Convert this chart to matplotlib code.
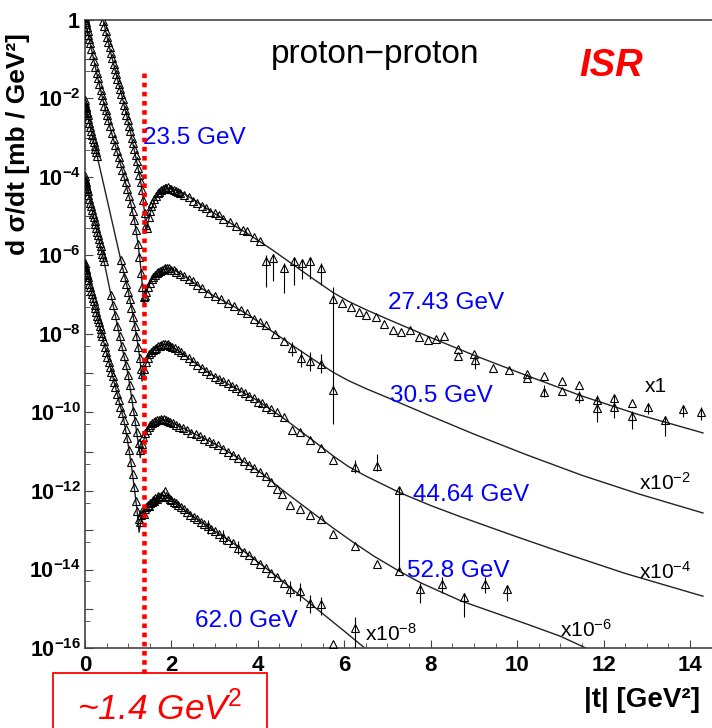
import numpy as np
import matplotlib
matplotlib.use('Agg')
import matplotlib.pyplot as plt
from matplotlib.ticker import FixedLocator, FuncFormatter, NullFormatter
from matplotlib.patches import Rectangle

plt.rcParams['font.family'] = 'Liberation Sans'
plt.rcParams['mathtext.fontset'] = 'custom'
plt.rcParams['mathtext.rm'] = 'Liberation Sans'
plt.rcParams['mathtext.it'] = 'Liberation Sans:italic'
plt.rcParams['mathtext.bf'] = 'Liberation Sans:bold'
plt.rcParams['mathtext.default'] = 'regular'

# values are (|t| in GeV^2, log10 of the plotted dsigma/dt incl. scale factor)

# 23.5 GeV, x1
pts_235 = [(0.42, -0.02), (0.45, -0.16), (0.48, -0.29), (0.51, -0.43), (0.54, -0.57), (0.57, -0.70),
           (0.60, -0.85), (0.63, -0.97), (0.66, -1.11), (0.69, -1.24), (0.72, -1.37), (0.75, -1.50),
           (0.78, -1.62), (0.81, -1.76), (0.84, -1.88), (0.87, -2.01), (0.90, -2.16), (0.93, -2.29),
           (0.96, -2.41), (0.99, -2.56), (1.02, -2.70), (1.05, -2.84), (1.08, -3.00), (1.11, -3.14),
           (1.14, -3.29), (1.17, -3.44), (1.20, -3.60), (1.23, -3.77), (1.26, -3.94), (1.29, -4.12),
           (1.32, -4.33), (1.35, -4.58), (1.38, -4.92), (1.41, -5.22),
           (1.44, -5.30), (1.47, -5.02), (1.50, -4.86), (1.53, -4.74), (1.56, -4.66), (1.60, -4.55),
           (1.64, -4.49), (1.68, -4.42), (1.72, -4.37), (1.76, -4.33), (1.80, -4.30), (1.84, -4.27),
           (1.88, -4.28), (1.92, -4.26), (1.96, -4.31), (2.00, -4.30), (2.05, -4.34), (2.10, -4.35),
           (2.15, -4.39), (2.20, -4.41), (2.30, -4.47), (2.40, -4.52), (2.50, -4.60), (2.60, -4.66),
           (2.70, -4.74), (2.80, -4.79), (2.90, -4.88), (3.00, -4.92), (3.10, -4.98), (3.20, -5.06),
           (3.35, -5.14), (3.50, -5.24), (3.65, -5.34), (3.76, -5.38), (3.90, -5.52), (4.05, -5.63)]
fit_235 = [(0.33, 0.45), (0.42, 0.0), (0.60, -0.85), (0.75, -1.50), (0.88, -2.05), (1.00, -2.60),
           (1.10, -3.10), (1.20, -3.62), (1.28, -4.05), (1.34, -4.50), (1.38, -4.95), (1.42, -5.40),
           (1.46, -5.15), (1.52, -4.88), (1.62, -4.56), (1.75, -4.38), (1.90, -4.30), (2.05, -4.31),
           (2.25, -4.40), (2.50, -4.57), (2.80, -4.79), (3.10, -5.00), (3.43, -5.22), (3.80, -5.47),
           (4.30, -5.83), (4.80, -6.22), (5.30, -6.61), (5.75, -6.95), (6.10, -7.17), (6.50, -7.38),
           (7.00, -7.62), (8.00, -8.09), (9.00, -8.54), (10.20, -9.05), (11.50, -9.58), (12.80, -10.05),
           (14.30, -10.52)]

# 27.43 GeV, x1 (large |t|)
pts_2743 = [(4.20, -6.15), (4.36, -6.07), (4.60, -6.33), (4.83, -6.15), (5.03, -6.20), (5.20, -6.15),
            (5.45, -6.33), (5.75, -7.12), (5.95, -7.20), (6.15, -7.30), (6.35, -7.45), (6.50, -7.51),
            (6.73, -7.56), (6.91, -7.74), (7.12, -7.90), (7.31, -7.95), (7.52, -7.90), (7.73, -8.08),
            (7.93, -8.15), (8.12, -8.12), (8.31, -8.05), (8.63, -8.38), (8.63, -8.56), (9.00, -8.50),
            (9.03, -8.67), (9.44, -8.87), (9.81, -8.92), (10.23, -9.03), (10.23, -9.13), (10.63, -9.06),
            (10.63, -9.47), (11.04, -9.20), (11.04, -9.44), (11.44, -9.31), (11.44, -9.57), (11.86, -9.67),
            (11.86, -9.89), (12.25, -9.62), (12.25, -9.87), (12.65, -9.77), (12.65, -10.08), (13.04, -9.85),
            (13.43, -10.20), (13.85, -9.92), (14.25, -10.00)]
bars_2743 = [(4.20, -6.80, -6.00), (4.36, -6.65, -5.95), (4.60, -6.95, -6.20), (4.83, -6.75, -6.05),
             (5.03, -6.60, -6.10), (5.20, -6.60, -6.05), (5.45, -6.75, -6.20), (5.75, -9.40, -6.80),
             (9.03, -8.90, -8.60), (10.63, -9.60, -9.30), (11.44, -9.75, -9.45), (11.86, -10.25, -9.55),
             (12.25, -10.15, -9.55), (12.65, -10.42, -9.95), (13.04, -10.05, -9.75), (13.43, -10.60, -10.10),
             (13.85, -10.12, -9.80), (14.25, -10.20, -9.85)]

# 30.5 GeV, x1e-2
pts_305 = [(0.003, 0.05), (0.008, 0.0), (0.015, -0.04), (0.025, -0.10), (0.04, -0.18), (0.06, -0.28),
           (0.08, -0.38), (0.10, -0.49), (0.12, -0.59), (0.15, -0.74), (0.18, -0.89), (0.21, -1.04),
           (0.24, -1.19), (0.27, -1.34), (0.30, -1.49), (0.33, -1.63), (0.36, -1.78), (0.39, -1.92),
           (0.42, -2.05), (0.45, -2.18), (0.48, -2.30), (0.51, -2.43), (0.54, -2.56), (0.58, -2.71),
           (0.62, -2.87), (0.66, -3.02), (0.70, -3.18), (0.74, -3.33), (0.78, -3.50), (0.82, -3.65),
           (0.86, -3.82), (0.90, -3.98), (0.94, -4.14), (0.98, -4.31), (1.02, -4.48), (1.06, -4.66),
           (1.10, -4.86), (1.14, -5.10), (1.18, -5.36), (1.22, -5.70), (1.26, -6.05), (1.30, -6.45),
           (1.33, -6.80), (1.36, -7.05),
           (1.39, -7.02), (1.42, -6.92), (1.46, -6.80), (1.50, -6.70), (1.54, -6.61), (1.58, -6.55),
           (1.62, -6.49), (1.66, -6.45), (1.70, -6.41), (1.74, -6.39), (1.78, -6.36), (1.82, -6.35),
           (1.86, -6.32), (1.90, -6.33), (1.95, -6.32), (2.00, -6.36), (2.05, -6.37), (2.10, -6.41),
           (2.20, -6.46), (2.30, -6.53), (2.40, -6.61), (2.50, -6.66), (2.60, -6.76), (2.70, -6.82),
           (2.85, -6.96), (3.00, -7.04), (3.15, -7.12), (3.30, -7.21), (3.45, -7.29), (3.60, -7.40),
           (3.75, -7.46), (3.90, -7.61), (4.05, -7.70), (4.20, -7.78), (4.40, -8.00), (4.60, -8.18),
           (4.80, -8.36), (5.00, -8.62), (5.20, -8.70), (5.45, -8.76), (5.75, -9.42)]
fit_305 = [(0.0, 0.0), (0.10, -0.50), (0.20, -1.00), (0.30, -1.50), (0.42, -2.05), (0.55, -2.62),
           (0.74, -3.35), (0.90, -3.99), (1.04, -4.58), (1.15, -5.15), (1.23, -5.72), (1.29, -6.30),
           (1.33, -6.80), (1.36, -7.30), (1.40, -7.05), (1.46, -6.80), (1.55, -6.60), (1.67, -6.46),
           (1.80, -6.37), (1.92, -6.33), (2.10, -6.38), (2.37, -6.58), (2.70, -6.84), (3.00, -7.04),
           (3.43, -7.29), (3.80, -7.53), (4.22, -7.85), (4.76, -8.26), (5.30, -8.66), (5.75, -8.98),
           (6.10, -9.19), (6.50, -9.39), (7.00, -9.62), (8.00, -10.09), (9.00, -10.55), (10.20, -11.07),
           (11.50, -11.60), (12.80, -12.07), (14.30, -12.56)]
bars_305 = [(4.80, -8.55, -8.20), (5.00, -8.85, -8.40), (5.20, -8.95, -8.45), (5.45, -9.00, -8.50),
            (5.75, -10.30, -9.30)]

# 44.64 GeV, x1e-4
pts_4464 = [(0.003, -2.05), (0.006, -2.12), (0.01, -2.18), (0.015, -2.22), (0.02, -2.25), (0.03, -2.30),
            (0.04, -2.34), (0.05, -2.38), (0.06, -2.42), (0.08, -2.52), (0.10, -2.62), (0.12, -2.72),
            (0.14, -2.82), (0.16, -2.92), (0.18, -3.02), (0.20, -3.11), (0.22, -3.20), (0.24, -3.28),
            (0.26, -3.37), (0.28, -3.46),
            (0.83, -6.12), (0.87, -6.33), (0.91, -6.55), (0.95, -6.72), (0.99, -6.92), (1.03, -7.12),
            (1.07, -7.33), (1.11, -7.56), (1.15, -7.80), (1.19, -8.05), (1.23, -8.33), (1.27, -8.62),
            (1.30, -8.90), (1.33, -9.02),
            (1.37, -8.90), (1.41, -8.72), (1.45, -8.60), (1.49, -8.52), (1.53, -8.46), (1.57, -8.42),
            (1.61, -8.38), (1.65, -8.35), (1.69, -8.31), (1.73, -8.30), (1.77, -8.28), (1.81, -8.26),
            (1.85, -8.25), (1.89, -8.27), (1.93, -8.26), (1.97, -8.30), (2.02, -8.32), (2.08, -8.36),
            (2.15, -8.41), (2.22, -8.47), (2.30, -8.54), (2.40, -8.62), (2.50, -8.70), (2.60, -8.78),
            (2.70, -8.86), (2.80, -8.94), (2.90, -9.02), (3.00, -9.09), (3.10, -9.14), (3.20, -9.20),
            (3.30, -9.25), (3.40, -9.33), (3.50, -9.38), (3.60, -9.45), (3.70, -9.50), (3.80, -9.58),
            (3.90, -9.63), (4.00, -9.72), (4.10, -9.75), (4.20, -9.85), (4.30, -9.90), (4.45, -10.00),
            (4.60, -10.12), (4.78, -10.45), (4.98, -10.50), (5.20, -10.70), (5.45, -10.90), (5.75, -11.20),
            (6.25, -11.40), (6.76, -11.36), (7.27, -11.97)]
fit_4464 = [(0.0, -2.10), (0.10, -2.62), (0.28, -3.46), (0.50, -4.52), (0.83, -6.12), (1.00, -6.92),
            (1.10, -7.45), (1.20, -8.10), (1.27, -8.62), (1.32, -9.20), (1.36, -8.95), (1.42, -8.72),
            (1.50, -8.52), (1.60, -8.38), (1.72, -8.30), (1.85, -8.27), (2.00, -8.31), (2.30, -8.54),
            (2.90, -9.02), (3.40, -9.33), (4.00, -9.70), (4.60, -10.15), (5.20, -10.65), (5.76, -11.12),
            (6.10, -11.38), (6.50, -11.62), (7.30, -12.05), (8.00, -12.37), (8.70, -12.66), (10.00, -13.17),
            (11.00, -13.55), (12.50, -14.10), (14.30, -14.68)]
bars_4464 = [(6.25, -11.55, -11.20), (6.76, -11.50, -11.05), (7.27, -14.05, -11.90)]

# 52.8 GeV, x1e-6
pts_528 = [(0.003, -3.98), (0.006, -4.05), (0.01, -4.10), (0.015, -4.14), (0.02, -4.17), (0.03, -4.22),
           (0.04, -4.27), (0.05, -4.31), (0.06, -4.36), (0.08, -4.45), (0.10, -4.55), (0.12, -4.65),
           (0.14, -4.74), (0.16, -4.84), (0.18, -4.93), (0.20, -5.02), (0.22, -5.11), (0.24, -5.21),
           (0.26, -5.30), (0.28, -5.40), (0.30, -5.48), (0.32, -5.58), (0.34, -5.67), (0.36, -5.77),
           (0.38, -5.86), (0.40, -5.96), (0.42, -6.05), (0.44, -6.15),
           (0.60, -7.00), (0.65, -7.25), (0.70, -7.52), (0.75, -7.80), (0.80, -8.05), (0.85, -8.30),
           (0.90, -8.55), (0.95, -8.80), (1.00, -9.05), (1.04, -9.30), (1.08, -9.62), (1.12, -9.95),
           (1.16, -10.22), (1.20, -10.50), (1.24, -10.78), (1.27, -10.95),
           (1.31, -10.80), (1.35, -10.62), (1.39, -10.52), (1.43, -10.45), (1.47, -10.38), (1.51, -10.33),
           (1.55, -10.28), (1.59, -10.25), (1.63, -10.22), (1.67, -10.20), (1.71, -10.19), (1.75, -10.17),
           (1.79, -10.18), (1.83, -10.16), (1.87, -10.20), (1.92, -10.21), (1.97, -10.24), (2.03, -10.27),
           (2.10, -10.32), (2.18, -10.36), (2.26, -10.40), (2.36, -10.45), (2.46, -10.51), (2.56, -10.56),
           (2.66, -10.61), (2.76, -10.67), (2.86, -10.72), (2.97, -10.78), (3.08, -10.84), (3.20, -10.92),
           (3.32, -11.00), (3.43, -11.08), (3.55, -11.16), (3.67, -11.24), (3.80, -11.34), (3.92, -11.42),
           (4.05, -11.52), (4.18, -11.62), (4.30, -11.78), (4.44, -11.95), (4.56, -12.08),
           (4.75, -12.35), (4.98, -12.45), (5.20, -12.60), (5.45, -12.72), (5.75, -13.10), (6.25, -13.40),
           (6.76, -13.85), (7.27, -14.05), (7.75, -14.50), (8.27, -14.36), (8.76, -14.70), (9.26, -14.36),
           (9.77, -14.50)]
fit_528 = [(0.0, -4.00), (0.20, -5.02), (0.44, -6.15), (0.60, -7.00), (0.83, -8.20), (1.00, -9.05),
           (1.09, -9.70), (1.17, -10.30), (1.24, -10.85), (1.28, -11.15), (1.32, -10.85), (1.40, -10.55),
           (1.50, -10.36), (1.62, -10.25), (1.80, -10.19), (2.00, -10.24), (2.36, -10.45), (2.97, -10.78),
           (3.43, -11.08), (4.05, -11.52), (4.60, -12.00), (5.20, -12.50), (5.75, -12.95), (6.20, -13.30),
           (6.70, -13.67), (7.30, -14.06), (7.77, -14.34), (8.70, -14.80), (10.25, -15.40), (11.00, -15.70),
           (11.55, -15.98), (12.10, -16.25)]
bars_528 = [(7.75, -14.85, -14.35), (8.27, -14.60, -14.20), (8.76, -15.20, -14.60), (9.26, -14.60, -14.20),
            (9.77, -14.80, -14.40)]

# 62.0 GeV, x1e-8
pts_620 = [(0.003, -6.18), (0.006, -6.25), (0.01, -6.30), (0.015, -6.34), (0.02, -6.37), (0.03, -6.42),
           (0.04, -6.46), (0.05, -6.50), (0.06, -6.55), (0.08, -6.63), (0.10, -6.72), (0.12, -6.81),
           (0.14, -6.90), (0.16, -6.99), (0.18, -7.08), (0.20, -7.17), (0.22, -7.26), (0.24, -7.35),
           (0.26, -7.44), (0.28, -7.53), (0.30, -7.62), (0.32, -7.70), (0.34, -7.79), (0.36, -7.88),
           (0.38, -7.97), (0.40, -8.06), (0.43, -8.19), (0.46, -8.32), (0.49, -8.45), (0.52, -8.58),
           (0.55, -8.71), (0.58, -8.84), (0.61, -8.96), (0.64, -9.08), (0.67, -9.22), (0.70, -9.36),
           (0.74, -9.52), (0.78, -9.68), (0.82, -9.85), (0.86, -10.02), (0.90, -10.20), (0.94, -10.42),
           (0.98, -10.66), (1.02, -10.95), (1.06, -11.25), (1.10, -11.56), (1.14, -11.90), (1.18, -12.25),
           (1.21, -12.52), (1.24, -12.72),
           (1.27, -12.78), (1.30, -12.62), (1.33, -12.50), (1.36, -12.58), (1.39, -12.45), (1.42, -12.40),
           (1.45, -12.35), (1.48, -12.38), (1.51, -12.30), (1.54, -12.27), (1.57, -12.22), (1.60, -12.25),
           (1.63, -12.18), (1.66, -12.20), (1.69, -12.14), (1.72, -12.16), (1.75, -12.12), (1.78, -12.15),
           (1.81, -12.08), (1.85, -12.00), (1.88, -12.12), (1.92, -12.16), (1.96, -12.20), (2.00, -12.22),
           (2.05, -12.27), (2.10, -12.30), (2.16, -12.36), (2.22, -12.40), (2.29, -12.47), (2.36, -12.54),
           (2.44, -12.60), (2.52, -12.66), (2.60, -12.72), (2.68, -12.78), (2.76, -12.84), (2.84, -12.90),
           (2.92, -12.97), (3.00, -13.02), (3.10, -13.10), (3.20, -13.16), (3.30, -13.24), (3.43, -13.33),
           (3.55, -13.44), (3.67, -13.55), (3.80, -13.64), (3.92, -13.75), (4.05, -13.85), (4.18, -13.97),
           (4.30, -14.08), (4.44, -14.18), (4.60, -14.35), (4.75, -14.50),
           (4.98, -14.55), (5.20, -14.85), (5.45, -14.87), (5.75, -15.90), (6.25, -15.50)]
fit_620 = [(0.0, -6.20), (0.20, -7.17), (0.40, -8.06), (0.65, -9.12), (0.80, -9.76), (0.90, -10.20),
           (1.00, -10.82), (1.08, -11.40), (1.15, -12.00), (1.21, -12.55), (1.25, -13.05), (1.29, -12.80),
           (1.36, -12.52), (1.45, -12.35), (1.60, -12.20), (1.80, -12.12), (2.00, -12.20), (2.36, -12.54),
           (2.97, -13.00), (3.43, -13.33), (4.05, -13.85), (4.44, -14.18), (4.75, -14.46), (5.10, -14.77),
           (5.45, -15.08), (6.00, -15.57), (6.55, -16.07), (6.80, -16.30)]
bars_620 = [(2.84, -13.10, -12.75), (3.20, -13.35, -13.00), (3.55, -13.60, -13.28), (4.75, -14.70, -14.30),
            (4.98, -14.80, -14.35), (5.20, -15.10, -14.65), (5.45, -15.15, -14.70), (6.25, -16.10, -15.20)]

# labels: (text, t, log10 y of baseline)
energy_labels = [('23.5 GeV', 1.34, -3.15), ('27.43 GeV', 7.01, -7.36), ('30.5 GeV', 7.06, -9.74),
                 ('44.64 GeV', 7.59, -12.26), ('52.8 GeV', 7.45, -14.18), ('62.0 GeV', 2.55, -15.46)]
scale_labels = [('x1', 12.96, -9.49), ('x10$^{-2}$', 12.82, -11.97), ('x10$^{-4}$', 12.82, -14.23),
                ('x10$^{-6}$', 11.00, -15.72), ('x10$^{-8}$', 6.48, -15.82)]
t_cut = 1.357


fig = plt.figure(figsize=(7.12, 7.28), dpi=100)
ax = fig.add_axes([85 / 712, 80 / 728, 627 / 712, 628 / 728])
ax.set_yscale('log')
ax.set_xlim(0, 14.51)
ax.set_ylim(1e-16, 1)


def draw(pts, fit=None, bars=None):
    if fit is not None:
        ft, fy = np.array(fit).T
        ax.plot(ft, 10.0 ** fy, color='#222222', lw=1.0, zorder=2)
    if bars is not None:
        bt, blo, bhi = np.array(bars).T
        ax.vlines(bt, 10.0 ** blo, 10.0 ** bhi, color='black', lw=0.8, zorder=3)
    t, ly = np.array(pts).T
    ax.plot(t, 10.0 ** ly, ls='none', marker='^', ms=5.5, mfc='none', mec='black', mew=0.8, zorder=4)


draw(pts_235, fit_235)
draw(pts_2743, None, bars_2743)
draw(pts_305, fit_305, bars_305)
draw(pts_4464, fit_4464, bars_4464)
draw(pts_528, fit_528, bars_528)
draw(pts_620, fit_620, bars_620)

# axes styling (ROOT-like)
for side in ['left', 'bottom', 'top']:
    ax.spines[side].set_color('#444444')
    ax.spines[side].set_linewidth(1.2)
ax.spines['right'].set_visible(False)


def ylab(v, pos):
    e = int(round(np.log10(v)))
    if e == 0:
        return r'$\mathbf{1}$'
    if e % 2:
        return ''
    return r'$\mathbf{10^{%d}}$' % e


ax.yaxis.set_major_locator(FixedLocator(10.0 ** np.arange(-16, 1)))
ax.yaxis.set_minor_locator(FixedLocator(5 * 10.0 ** np.arange(-16, 0)))
ax.yaxis.set_major_formatter(FuncFormatter(ylab))
ax.yaxis.set_minor_formatter(NullFormatter())
ax.set_xticks(np.arange(0, 15, 2))
ax.set_xticks(np.arange(0, 14.6, 0.5), minor=True)
ax.set_xticklabels([str(v) for v in range(0, 15, 2)], fontweight='bold')
ax.tick_params(axis='both', which='both', direction='in', color='#444444', top=False, right=False)
ax.tick_params(axis='y', which='major', length=6, labelsize=15.5, pad=3)
ax.tick_params(axis='y', which='minor', length=3.5)
ax.tick_params(axis='x', which='major', length=6, labelsize=16, pad=5)
ax.tick_params(axis='x', which='minor', length=3.5)

# annotations
for txt, tx, ly in energy_labels:
    ax.text(tx, 10.0 ** ly, txt, color='#0000ff', fontsize=17.5, ha='left', va='baseline', zorder=6)
for txt, tx, ly in scale_labels:
    ax.text(tx, 10.0 ** ly, txt, color='black', fontsize=15, ha='left', va='baseline', zorder=6)

ax.plot([t_cut, t_cut], [10.0 ** -1.35, 10.0 ** -16.74], color='red', lw=3.3,
        ls=(0, (1, 1)), dash_capstyle='butt', clip_on=False, zorder=7)

fig.text(375 / 712, 1 - 63 / 728, 'proton\u2212proton', fontsize=24, ha='center', va='baseline')
fig.text(611 / 712, 1 - 76 / 728, 'ISR', color='red', fontsize=27.5, fontweight='bold',
         style='italic', ha='center', va='baseline')
fig.text(18 / 712, 1 - 33 / 728, 'd σ/dt [mb / GeV²]', fontsize=19, fontweight='bold',
         rotation=90, ha='center', va='top')
fig.text(700 / 712, 1 - 700 / 728, '|t| [GeV²]', fontsize=20, fontweight='bold', ha='right', va='center')

fig.add_artist(Rectangle((53 / 712, -0.02), 214 / 712, 55 / 728 + 0.02, transform=fig.transFigure,
                         fill=False, ec='red', lw=1.3))
fig.text(160 / 712, 8 / 728, r'~1.4 GeV$^{\mathit{2}}$', color='red', fontsize=25.5, style='italic',
         ha='center', va='baseline')

fig.savefig('out.png', dpi=100, facecolor='white')
